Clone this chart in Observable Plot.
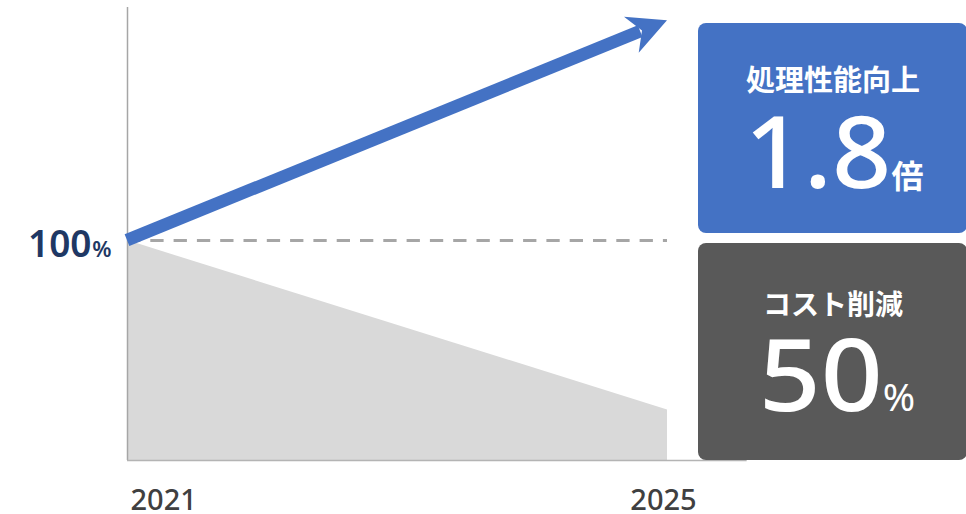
<!DOCTYPE html>
<html>
<head>
<meta charset="utf-8">
<script src="https://cdn.jsdelivr.net/npm/d3@7"></script>
<script src="https://cdn.jsdelivr.net/npm/@observablehq/plot@0.6"></script>
<style>
  html, body { margin: 0; padding: 0; background: #ffffff; }
  #chart { width: 966px; height: 514px; overflow: hidden; }
  #chart svg { display: block; }
</style>
</head>
<body>
<div id="chart"></div>
<script>
// ---- data ----
const years = [2021, 2025];
const performance = [100, 200];      // index, 2021 = 100 (arrow)
const cost = [100, 23];              // index, 2021 = 100 (grey area)
const referenceLevel = [100];
const yearLabels = ["2021", "2025"];
const baseLabel = ["100", "%"];
const axisExtent = [2021, 2025.59];
const perfTitle = "処理性能向上";
const perfValue = "1.8";
const perfUnit = "倍";
const costTitle = "コスト削減";
const costValue = "50";
const costUnit = "%";

// ---- derived tables ----
const costData = years.map((year, i) => ({year, value: cost[i]}));
const perfData = [{x1: years[0], y1: performance[0], x2: years[1], y2: performance[1]}];
const yearData = years.map((year, i) => ({year, label: yearLabels[i]}));

const BLUE = "#4472c4";
const DIGIT_FONT = "'Noto Sans', 'Noto Sans CJK JP', sans-serif";
const JP_FONT = "'Noto Sans CJK JP', 'Noto Sans', sans-serif";

// custom arrow (shaft + notched head) drawn via the plot's scales
function arrowMark(index, scales) {
  const {x, y} = scales;
  const g = d3.create("svg:g");
  for (const d of perfData) {
    const sx = x(d.x1), sy = y(d.y1), tx = x(d.x2), ty = y(d.y2);
    const L = Math.hypot(tx - sx, ty - sy);
    const ux = (tx - sx) / L, uy = (ty - sy) / L;
    const nx = -uy, ny = ux;
    const headLen = 38.5, half = 19.5, notch = 27, shaftEnd = 29;
    g.append("line")
      .attr("x1", sx).attr("y1", sy)
      .attr("x2", tx - shaftEnd * ux).attr("y2", ty - shaftEnd * uy)
      .attr("stroke", BLUE).attr("stroke-width", 12.5).attr("stroke-linecap", "butt");
    const pts = [
      [tx, ty],
      [tx - headLen * ux + half * nx, ty - headLen * uy + half * ny],
      [tx - notch * ux, ty - notch * uy],
      [tx - headLen * ux - half * nx, ty - headLen * uy - half * ny]
    ];
    g.append("polygon").attr("points", pts.map(p => p.join(",")).join(" ")).attr("fill", BLUE);
  }
  return g.node();
}

const chart = Plot.plot({
  width: 966,
  height: 514,
  marginLeft: 127,
  marginRight: 299,
  marginTop: 7,
  marginBottom: 54,
  x: {type: "linear", domain: [2021, 2025], axis: null},
  y: {domain: [0, 206], axis: null},
  style: {background: "#ffffff", overflow: "visible"},
  marks: [
    Plot.areaY(costData, {x: "year", y: "value", fill: "#d9d9d9"}),
    Plot.ruleY(referenceLevel, {x1: years[0], x2: years[1], stroke: "#a6a6a6", strokeWidth: 3, strokeDasharray: "13.3,10"}),
    Plot.ruleX([years[0]], {stroke: "#a6a6a6", strokeWidth: 1.5}),
    Plot.ruleY([0], {x1: axisExtent[0], x2: axisExtent[1], stroke: "#b4b4b4", strokeWidth: 1.5}),
    arrowMark,
    Plot.text(referenceLevel, {x: years[0], y: d => d, text: () => baseLabel[0], textAnchor: "end", lineAnchor: "bottom",
      dx: -36, dy: 16, fontSize: 37, fill: "#1f3864", fontFamily: DIGIT_FONT, fontWeight: 600}),
    Plot.text(referenceLevel, {x: years[0], y: d => d, text: () => baseLabel[1], textAnchor: "end", lineAnchor: "bottom",
      dx: -16, dy: 16, fontSize: 22, fill: "#1f3864", fontFamily: DIGIT_FONT, fontWeight: 600}),
    Plot.text(yearData.slice(0, 1), {x: "year", y: () => 0, text: "label", textAnchor: "start", lineAnchor: "bottom",
      dx: 3, dy: 49, fontSize: 29, fill: "#404040", fontFamily: DIGIT_FONT, fontWeight: 500}),
    Plot.text(yearData.slice(1), {x: "year", y: () => 0, text: "label", textAnchor: "middle", lineAnchor: "bottom",
      dx: -4, dy: 49, fontSize: 29, fill: "#404040", fontFamily: DIGIT_FONT, fontWeight: 500})
  ]
});

// ---- callout boxes (annotations) ----
const svg = d3.select(chart);
const layout = [
  {title: perfTitle, value: perfValue, unit: perfUnit, fill: BLUE, y: 23, h: 210, titleY: 91, valueY: 188,
   valueLen: 147, unitSize: 32, unitFont: JP_FONT, unitWeight: 700, titleSize: 29, cx: 834},
  {title: costTitle, value: costValue, unit: costUnit, fill: "#595959", y: 243, h: 217, titleY: 315, valueY: 411,
   valueLen: 124, unitSize: 39, unitFont: DIGIT_FONT, unitWeight: 400, titleSize: 28, cx: 837}
];
const g = svg.append("g");
for (const c of layout) {
  g.append("rect").attr("x", 698).attr("y", c.y).attr("width", 269).attr("height", c.h)
    .attr("rx", 8).attr("ry", 8).attr("fill", c.fill);
  g.append("text").attr("x", 833).attr("y", c.titleY).attr("text-anchor", "middle")
    .attr("fill", "#ffffff").attr("font-family", JP_FONT).attr("font-weight", 700)
    .attr("font-size", c.titleSize).text(c.title);
  const t = g.append("text").attr("x", c.cx).attr("y", c.valueY).attr("text-anchor", "middle")
    .attr("fill", "#ffffff");
  const v = t.append("tspan").attr("font-family", DIGIT_FONT).attr("font-size", 100).attr("font-weight", 500).text(c.value);
  if (c.valueLen) v.attr("textLength", c.valueLen).attr("lengthAdjust", "spacingAndGlyphs");
  t.append("tspan").attr("font-family", c.unitFont).attr("font-size", c.unitSize).attr("font-weight", c.unitWeight).text(c.unit);
}

document.getElementById("chart").appendChild(chart);
</script>
</body>
</html>
